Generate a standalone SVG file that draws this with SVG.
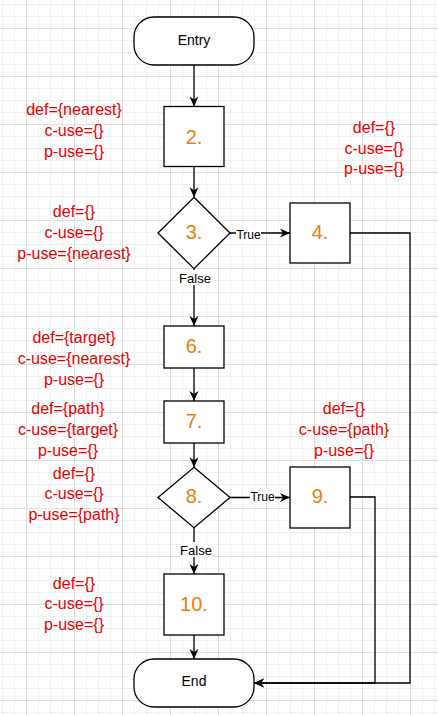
<svg xmlns="http://www.w3.org/2000/svg" width="438" height="715" viewBox="0 0 438 715">
<style>
.shape{fill:#fff;stroke:#000;stroke-width:1.3}
.num{font-family:"Liberation Sans",Arial,sans-serif;font-size:20px;fill:#e8810c;text-anchor:middle}
.term{font-family:"Liberation Sans",Arial,sans-serif;font-size:14px;fill:#000;text-anchor:middle}
.note{font-family:"Liberation Sans",Arial,sans-serif;font-size:16px;fill:#e60000;text-anchor:middle}
.edge{fill:none;stroke:#000;stroke-width:1.3}
.elab{font-family:"Liberation Sans",Arial,sans-serif;fill:#000;text-anchor:middle}
.lbg{fill:#fff}
</style>
<defs>
<pattern id="grid" width="48" height="48" patternUnits="userSpaceOnUse" x="26" y="28">
<rect width="48" height="48" fill="#fff"/>
<rect x="12" y="0" width="1" height="48" fill="#f1f1f1"/>
<rect x="24" y="0" width="1" height="48" fill="#f1f1f1"/>
<rect x="36" y="0" width="1" height="48" fill="#f1f1f1"/>
<rect x="0" y="12" width="48" height="1" fill="#f1f1f1"/>
<rect x="0" y="24" width="48" height="1" fill="#f1f1f1"/>
<rect x="0" y="36" width="48" height="1" fill="#f1f1f1"/>
<rect x="0" y="0" width="1" height="48" fill="#dedede"/>
<rect x="0" y="0" width="48" height="1" fill="#dedede"/>
</pattern>
<marker id="arrow" viewBox="0 0 10 10" refX="10" refY="5" markerWidth="10" markerHeight="10" markerUnits="userSpaceOnUse" orient="auto">
<path d="M0,0.5 L10,5 L0,9.5 L3,5 Z" fill="#000"/>
</marker>
</defs>
<rect width="438" height="715" fill="url(#grid)"/>

<g id="connectors">
<path class="edge" d="M194,65 V106.5" marker-end="url(#arrow)"/>
<path class="edge" d="M194,166.5 V197.3" marker-end="url(#arrow)"/>
<path class="edge" d="M230,233 H290" marker-end="url(#arrow)"/>
<path class="edge" d="M194,268.7 V326" marker-end="url(#arrow)"/>
<path class="edge" d="M194,368 V401" marker-end="url(#arrow)"/>
<path class="edge" d="M194,443 V467.3" marker-end="url(#arrow)"/>
<path class="edge" d="M230,497.5 H290" marker-end="url(#arrow)"/>
<path class="edge" d="M194,527.7 V574" marker-end="url(#arrow)"/>
<path class="edge" d="M194,635 V659" marker-end="url(#arrow)"/>
<path class="edge" d="M350,233 H410 V683 H254" marker-end="url(#arrow)"/>
<path class="edge" d="M350,497 H375 V683 H254" marker-end="url(#arrow)"/>
<rect class="lbg" x="236" y="228" width="25" height="14"/>
<text class="elab" x="248.5" y="239.3" font-size="12">True</text>
<rect class="lbg" x="178" y="270" width="34" height="15"/>
<text class="elab" x="195" y="283.3" font-size="13">False</text>
<rect class="lbg" x="250" y="489" width="25" height="14"/>
<text class="elab" x="262.5" y="500.7" font-size="12">True</text>
<rect class="lbg" x="180" y="542" width="32" height="15"/>
<text class="elab" x="196" y="555" font-size="13">False</text>
</g>

<g id="entry">
<rect class="shape" x="134" y="17" width="120" height="48" rx="20" ry="20"/>
<text class="term" x="194" y="44.5">Entry</text>
</g>
<g id="n2">
<rect class="shape" x="164" y="106.5" width="60" height="60"/>
<text class="num" x="194" y="143.5">2.</text>
</g>
<g id="n3">
<polygon class="shape" points="194,197.3 230,233 194,268.7 158,233"/>
<text class="num" x="194" y="238.8">3.</text>
</g>
<g id="n4">
<rect class="shape" x="290" y="203" width="60" height="60"/>
<text class="num" x="320" y="239.3">4.</text>
</g>
<g id="n6">
<rect class="shape" x="164" y="326" width="60" height="42"/>
<text class="num" x="194" y="352.8">6.</text>
</g>
<g id="n7">
<rect class="shape" x="164" y="401" width="60" height="42"/>
<text class="num" x="194" y="428.3">7.</text>
</g>
<g id="n8">
<polygon class="shape" points="194,467.3 230,497.5 194,527.7 158,497.5"/>
<text class="num" x="194" y="503">8.</text>
</g>
<g id="n9">
<rect class="shape" x="290" y="467" width="60" height="61"/>
<text class="num" x="320" y="503">9.</text>
</g>
<g id="n10">
<rect class="shape" x="164" y="574" width="60" height="61"/>
<text class="num" x="194" y="611">10.</text>
</g>
<g id="end">
<rect class="shape" x="134" y="659" width="120" height="48" rx="20" ry="20"/>
<text class="term" x="194" y="686">End</text>
</g>

<g id="note2">
<text class="note" x="74" y="115.2">def={nearest}</text>
<text class="note" x="74" y="136">c-use={}</text>
<text class="note" x="74" y="156.8">p-use={}</text>
</g>
<g id="note3">
<text class="note" x="74" y="217">def={}</text>
<text class="note" x="74" y="237.8">c-use={}</text>
<text class="note" x="74" y="258.6">p-use={nearest}</text>
</g>
<g id="note4">
<text class="note" x="374" y="132.7">def={}</text>
<text class="note" x="374" y="153.5">c-use={}</text>
<text class="note" x="374" y="174.3">p-use={}</text>
</g>
<g id="note6">
<text class="note" x="74" y="343">def={target}</text>
<text class="note" x="74" y="363.8">c-use={nearest}</text>
<text class="note" x="74" y="384.6">p-use={}</text>
</g>
<g id="note7">
<text class="note" x="68" y="414.3">def={path}</text>
<text class="note" x="68" y="435.1">c-use={target}</text>
<text class="note" x="68" y="455.9">p-use={}</text>
</g>
<g id="note8">
<text class="note" x="74" y="478.5">def={}</text>
<text class="note" x="74" y="499.3">c-use={}</text>
<text class="note" x="74" y="520.1">p-use={path}</text>
</g>
<g id="note9">
<text class="note" x="344" y="414.3">def={}</text>
<text class="note" x="344" y="435.1">c-use={path}</text>
<text class="note" x="344" y="455.9">p-use={}</text>
</g>
<g id="note10">
<text class="note" x="74" y="588.6">def={}</text>
<text class="note" x="74" y="609.4">c-use={}</text>
<text class="note" x="74" y="630.2">p-use={}</text>
</g>
</svg>
